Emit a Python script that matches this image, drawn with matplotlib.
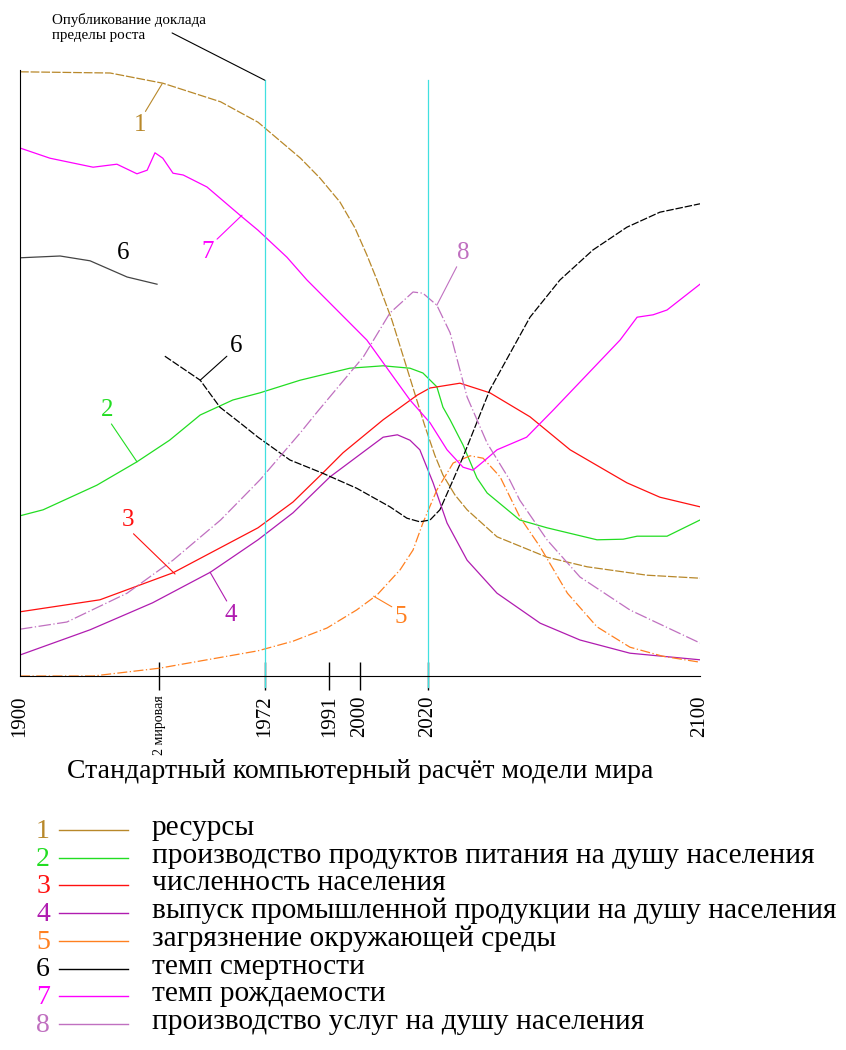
import matplotlib
matplotlib.use("Agg")
import matplotlib.pyplot as plt
from matplotlib.lines import Line2D

plt.rcParams["font.family"] = ["Liberation Serif", "DejaVu Serif"]

# --- data: years and relative level (0..100) ---
res_years = [1900, 1926.5, 1942, 1959, 1970, 1982.5, 1988.2, 1994.1, 1998.5, 2002, 2005, 2009.4,
             2013.8, 2019, 2022, 2024.4, 2027.9, 2031.5, 2040.3, 2055, 2066.8, 2084.4, 2100]
res_vals = [100.7, 100.5, 98.8, 95.7, 92.3, 86.3, 83, 79, 74.7, 70.2, 66, 59.3,
            51.3, 41.8, 36.8, 33.5, 30.2, 27.7, 23.2, 19.8, 18.2, 16.8, 16.3]

food_years = [1900, 1906.8, 1922.6, 1934.4, 1944, 1953, 1962.6, 1970.6, 1982.4, 1997, 2006.8, 2014.7,
              2018.5, 2022.6, 2024.4, 2026.5, 2030.3, 2034.4, 2037.4, 2047, 2055, 2069.7, 2077.4,
              2081.5, 2090.3, 2100]
food_vals = [26.7, 27.7, 31.8, 35.7, 39.3, 43.5, 46, 47.2, 49.3, 51.3, 51.7, 51.3,
             50.5, 48.2, 44.8, 42.7, 38.5, 33, 30.5, 26, 24.7, 22.7, 22.8,
             23.3, 23.3, 26]

pop_years = [1900, 1923.5, 1945, 1970, 1980.3, 1989, 1995, 2006.8, 2016.8, 2020.6, 2029.4, 2038.2,
             2050, 2061.8, 2070.6, 2078.5, 2088.2, 2100]
pop_vals = [10.7, 12.7, 17.2, 24.7, 29, 33.8, 37.2, 42.7, 46.8, 48, 48.8, 47.2,
            43.2, 37.7, 34.8, 32.2, 29.8, 28.2]

ind_years = [1900, 1920.6, 1939, 1956, 1970, 1980.3, 1991.2, 2006.8, 2011, 2014.7, 2017.6, 2021.5,
             2025.6, 2031.5, 2040.3, 2053, 2064.7, 2079.4, 2100]
ind_vals = [3.5, 7.7, 12.2, 17.3, 22.7, 27.2, 33.2, 39.8, 40.2, 39.3, 37.7, 32.2,
            25.5, 19.3, 13.8, 8.8, 6, 3.8, 2.7]

pol_years = [1900, 1921.5, 1941, 1970, 1980.3, 1990.3, 1999, 2005, 2011.8, 2015.6, 2018.5, 2022.6,
             2027.4, 2032.4, 2036.2, 2041.2, 2047, 2053, 2061, 2069.7, 2079.4, 2089, 2100]
pol_vals = [0, 0, 1.3, 4.2, 5.8, 8, 11, 13.5, 17.7, 21, 25.5, 31,
            35.5, 36.7, 36.3, 33.2, 26.5, 21.5, 13.8, 8.2, 4.8, 3.3, 2.3]

death_early_years = [1900, 1911.8, 1920.6, 1931.5, 1940.3]
death_early_vals = [69.7, 70, 69.2, 66.5, 65.3]

death_years = [1942.6, 1953, 1958.8, 1964.7, 1970, 1979.4, 1989, 1999, 2008.8, 2013.8, 2017.6, 2020.6,
               2023.5, 2027.4, 2030.3, 2038.2, 2050, 2058.8, 2068.5, 2078.5, 2088.2, 2100]
death_vals = [53.3, 49.3, 44.8, 42.2, 39.8, 36, 33.8, 31.3, 28.2, 26.3, 25.7, 26,
              27.7, 32.7, 36.5, 47.7, 59.8, 66, 71, 74.8, 77.3, 78.7]

birth_years = [1900, 1908.8, 1921.5, 1928.5, 1934.4, 1937.4, 1939.7, 1942, 1945, 1948, 1955, 1964.7,
               1970, 1978.5, 1984.4, 2002, 2014.7, 2020.6, 2025.6, 2030.3, 2033.2, 2036.2, 2040.3,
               2049, 2056.8, 2076.5, 2081.5, 2086.2, 2090.3, 2100]
birth_vals = [88, 86.3, 84.8, 85.3, 83.7, 84.3, 87.2, 86.3, 83.8, 83.5, 81.5, 76.8,
              74.3, 69.8, 66, 56, 46, 42.2, 37.7, 34.8, 34.3, 35.7, 37.7,
              39.8, 44.3, 56, 59.8, 60.2, 61, 65.3]

serv_years = [1900, 1913.8, 1931.5, 1945, 1959, 1970.6, 1982.4, 1987.4, 2001, 2008.8, 2015.6, 2018.5,
              2022.6, 2026.5, 2031.5, 2037.4, 2044, 2047, 2055, 2064.7, 2079.4, 2100]
serv_vals = [7.8, 9, 13.8, 19.3, 26, 32.7, 40.5, 44, 53.2, 60.5, 64, 63.8,
             61.8, 57.2, 46.5, 38.8, 32.7, 29.3, 22.7, 16.5, 11, 5.5]

tick_years = [1900, 1941, 1972, 1991, 2000, 2020, 2100]
tick_labels = ["1900", "2 мировая", "1972", "1991", "2000", "2020", "2100"]

legend_labels = ["ресурсы",
                 "производство продуктов питания на душу населения",
                 "численность населения",
                 "выпуск промышленной продукции на душу населения",
                 "загрязнение окружающей среды",
                 "темп смертности",
                 "темп рождаемости",
                 "производство услуг на душу населения"]

c_res = "#b8882a"
c_food = "#22dd22"
c_pop = "#ff1010"
c_ind = "#b01cb0"
c_pol = "#ff8020"
c_death = "#000000"
c_birth = "#ff00ff"
c_serv = "#c070c0"
c_mark = "#40e0e0"
colors = [c_res, c_food, c_pop, c_ind, c_pol, c_death, c_birth, c_serv]

W, H = 846, 1050
fig = plt.figure(figsize=(W / 100, H / 100), dpi=100)
ax = fig.add_axes([20 / W, 1 - 676 / H, 680 / W, 606 / H])
ax.set_xlim(1900, 2100)
ax.set_ylim(0, 101)

lw = 0.9
ax.plot(res_years, res_vals, color=c_res, lw=lw, dashes=(7, 1.5))
ax.plot(food_years, food_vals, color=c_food, lw=lw)
ax.plot(pop_years, pop_vals, color=c_pop, lw=lw)
ax.plot(ind_years, ind_vals, color=c_ind, lw=lw)
ax.plot(pol_years, pol_vals, color=c_pol, lw=lw, dashes=(8, 2, 1, 2))
ax.plot(death_early_years, death_early_vals, color="#444444", lw=lw)
ax.plot(death_years, death_vals, color=c_death, lw=lw, dashes=(6, 1.5))
ax.plot(birth_years, birth_vals, color=c_birth, lw=lw)
ax.plot(serv_years, serv_vals, color=c_serv, lw=lw, dashes=(10, 2, 1, 2))

# reference years: report publication and today
for yr in (1972, 2020):
    ax.axvline(yr, ymin=-0.018, ymax=0.983, color=c_mark, lw=0.9, clip_on=False)

ax.annotate("Опубликование доклада\nпределы роста", xy=(1972, 99.3), xytext=(1909.4, 110.5),
            fontsize=10.8, ha="left", va="top", linespacing=1.15,
            arrowprops=dict(arrowstyle="-", color="black", lw=0.8, shrinkA=0, shrinkB=0,
                            relpos=(0.78, 0.3), patchA=None),
            annotation_clip=False)

# curve labels with leader lines
labels = [
    ("1", c_res, (1935.3, 91.8), (1941.8, 98.7), (0.8, 1.0)),
    ("7", c_birth, (1955.3, 70.7), (1965.3, 76.8), (0.9, 0.9)),
    ("6", c_death, (1963.5, 55), (1953, 49.3), (0.1, 0.2)),
    ("8", c_serv, (2030.3, 70.5), (2022.6, 61.8), (0.2, 0.1)),
    ("2", c_food, (1925.6, 44.3), (1934.4, 35.7), (0.7, 0.0)),
    ("3", c_pop, (1931.8, 26), (1945.6, 17), (0.7, 0.0)),
    ("4", c_ind, (1962, 10.2), (1955.9, 17.3), (0.3, 1.0)),
    ("5", c_pol, (2012, 9.8), (2004, 13.3), (0.0, 0.9)),
]
for txt, col, pos, target, rp in labels:
    ax.annotate(txt, xy=target, xytext=pos, color=col, fontsize=18, ha="center", va="center",
                arrowprops=dict(arrowstyle="-", color=col, lw=0.8, shrinkA=0, shrinkB=0,
                                relpos=rp))
ax.text(1930.3, 70.5, "6", color=c_death, fontsize=18, ha="center", va="center")

ax.spines["top"].set_visible(False)
ax.spines["right"].set_visible(False)
ax.set_yticks([])
ax.set_xticks(tick_years)
ax.set_xticklabels(tick_labels, rotation=90, fontsize=15, va="top")
ax.tick_params(axis="x", direction="inout", length=20, width=1, pad=4)
ticks = ax.xaxis.get_major_ticks()
ticks[0].tick1line.set_visible(False)
ticks[-1].tick1line.set_visible(False)
ticks[1].label1.set_fontsize(10)

fig.text(360 / W, 1 - 772 / H, "Стандартный компьютерный расчёт модели мира",
         fontsize=20, ha="center", va="center")

row0, step = 830, 27.7
for i, (lab, col) in enumerate(zip(legend_labels, colors)):
    yl = row0 + i * step
    fig.text(43 / W, 1 - (yl + 8) / H, str(i + 1), color=col, fontsize=20,
             ha="center", va="baseline")
    fig.add_artist(Line2D([59 / W, 128 / W], [1 - yl / H, 1 - yl / H], color=col, lw=1.0))
    fig.text(152 / W, 1 - (yl + 5) / H, lab, fontsize=21.2, ha="left", va="baseline")

fig.savefig("out.png", dpi=100)
